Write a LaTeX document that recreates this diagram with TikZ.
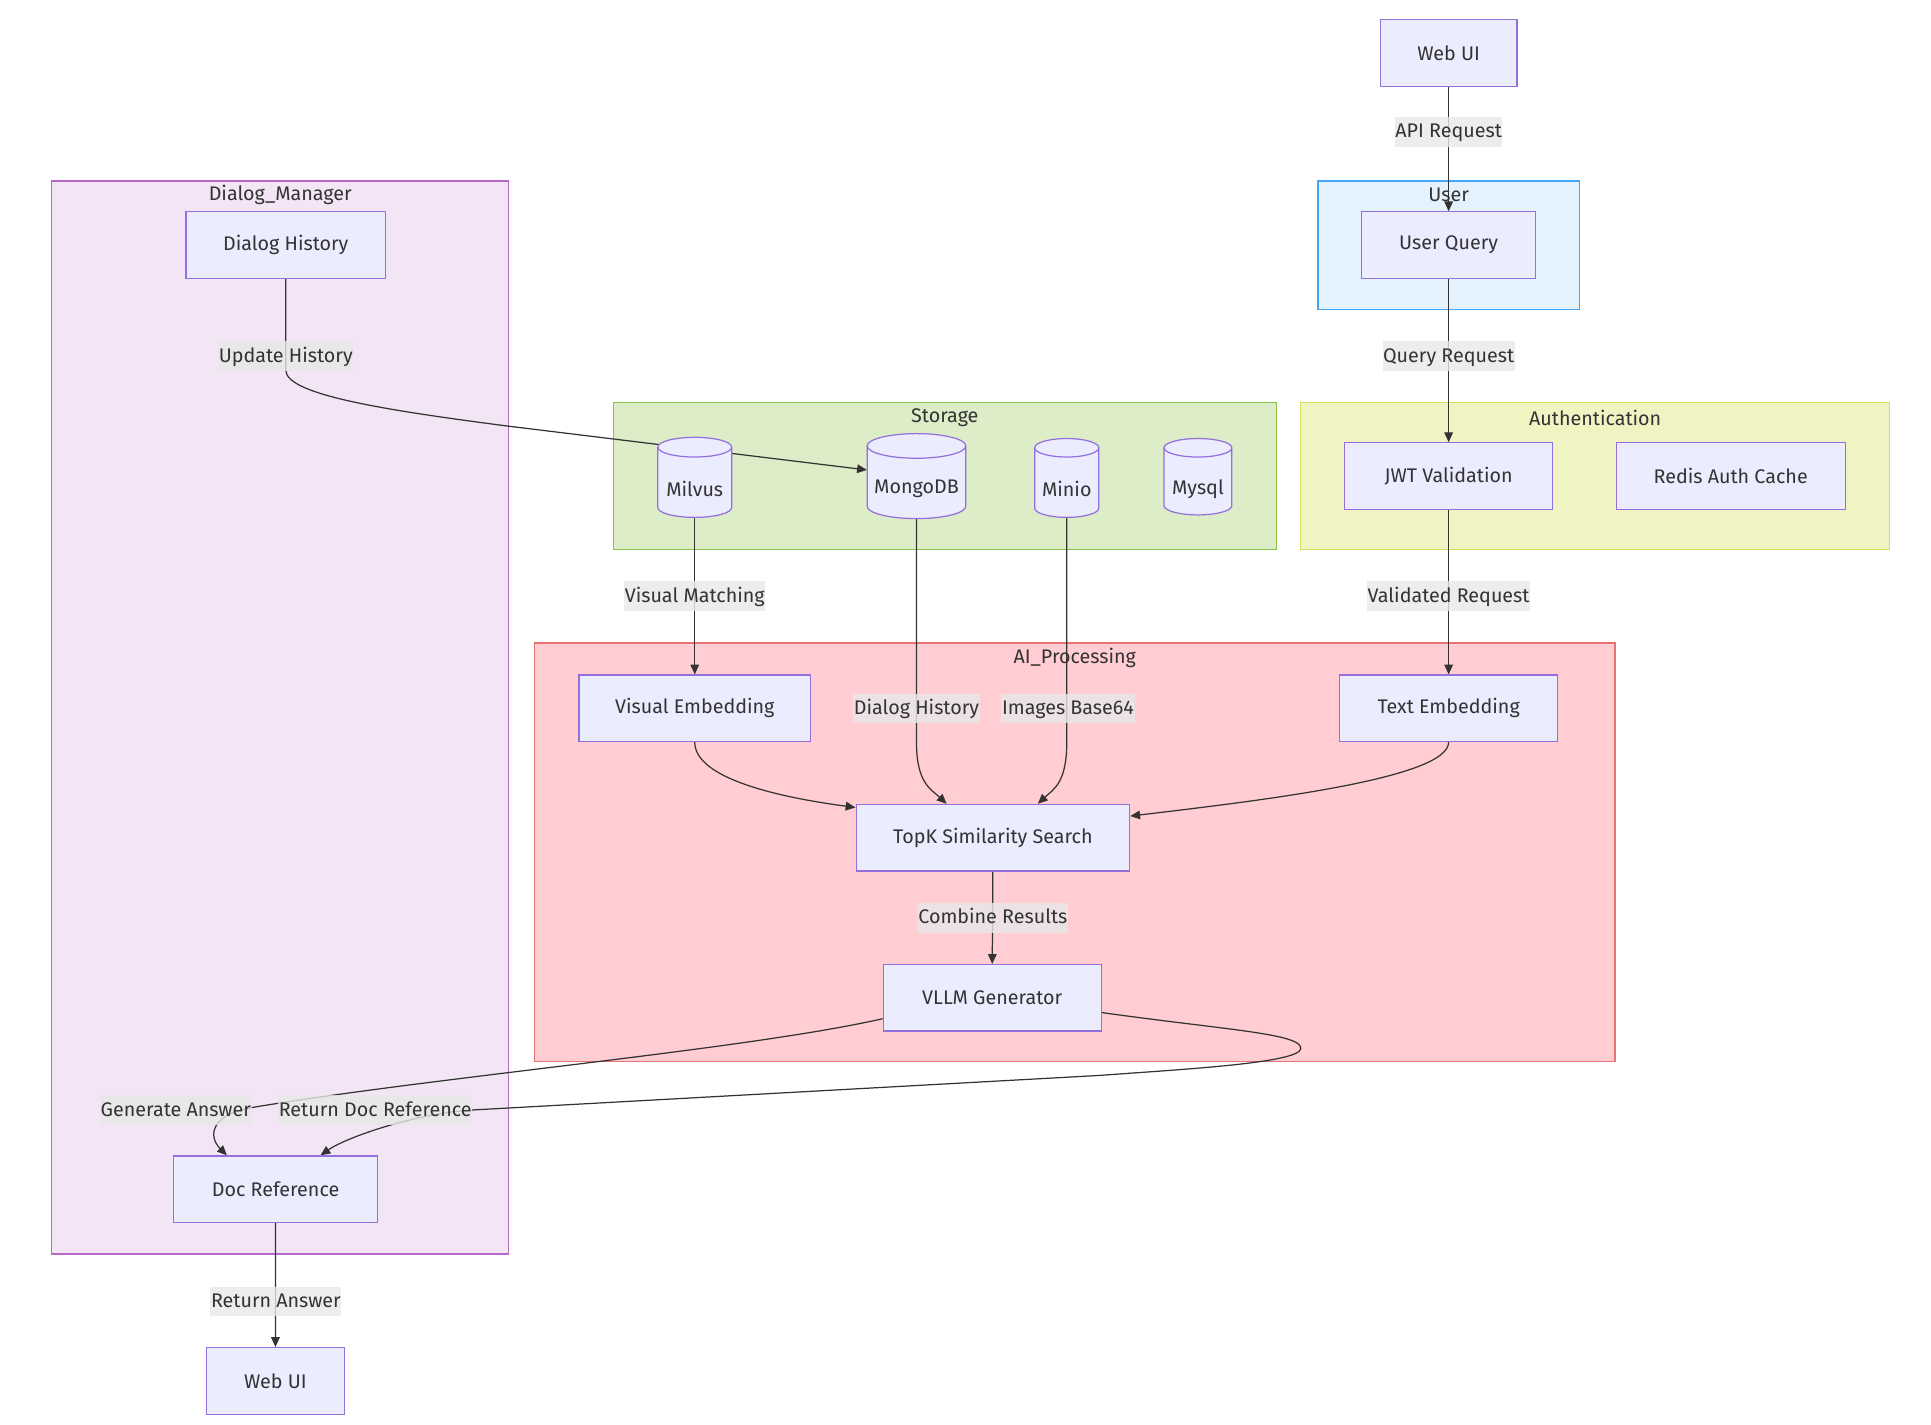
\documentclass[tikz,border=0pt]{standalone}
\usepackage{fontspec}
\setmainfont{Fira Sans}
\usetikzlibrary{arrows.meta}
\definecolor{nfill}{HTML}{ECECFF}
\definecolor{nstroke}{HTML}{9370DB}
\definecolor{ink}{HTML}{333333}
\definecolor{lblbg}{HTML}{E8E8E8}
\definecolor{dmfill}{HTML}{F3E5F5}
\definecolor{dmstroke}{HTML}{BA68C8}
\definecolor{usfill}{HTML}{E3F2FD}
\definecolor{usstroke}{HTML}{42A5F5}
\definecolor{stfill}{HTML}{DCEDC8}
\definecolor{ststroke}{HTML}{8BC34A}
\definecolor{aufill}{HTML}{F0F4C3}
\definecolor{austroke}{HTML}{D4E157}
\definecolor{aifill}{HTML}{FFCDD2}
\definecolor{aistroke}{HTML}{E57373}
\pgfdeclarelayer{clusters}
\pgfdeclarelayer{edges}
\pgfsetlayers{clusters,edges,main}
\newcommand\mfont{\fontsize{16}{19}\selectfont}
\tikzset{
  box/.style={draw=nstroke, fill=nfill, line width=1pt, minimum height=54pt, inner sep=0pt, text=ink, font=\mfont},
  dbnode/.style={inner sep=0pt, text=ink, font=\mfont},
  cylbody/.style={draw=nstroke, fill=nfill, line width=1pt},
  cylline/.style={draw=nstroke, line width=1pt},
  cluster/.style={line width=1pt},
  ctitle/.style={text=ink, font=\mfont, inner sep=0pt},
  edge/.style={draw=ink, line width=1pt, -{Triangle[length=8pt,width=7pt]}},
  elabel/.style={fill=lblbg, fill opacity=0.8, text opacity=1, text=ink, font=\mfont, inner xsep=0.5pt, inner ysep=0pt, text height=17pt, text depth=7pt},
}
\newcommand\dbshape[5]{%
  \path[cylbody] (#1-#2,#3+#5) -- (#1-#2,#4-#5) arc[start angle=180,end angle=360,x radius=#2pt,y radius=#5pt] -- (#1+#2,#3+#5) arc[start angle=0,end angle=180,x radius=#2pt,y radius=#5pt] -- cycle;
  \draw[cylline] (#1-#2,#3+#5) arc[start angle=180,end angle=360,x radius=#2pt,y radius=#5pt];
}
\begin{document}
\begin{tikzpicture}[x=1pt,y=-1pt]
\useasboundingbox (0,0) rectangle (1567.6,1156.8);

% clusters
\begin{pgfonlayer}{clusters}
\draw[cluster, draw=dmstroke, fill=dmfill] (42,147) rectangle (413,1018);
\node[ctitle] (tdm) at (227.5,158.5) {Dialog\_Manager};
\draw[cluster, draw=usstroke, fill=usfill] (1070,147) rectangle (1282,251);
\node[ctitle] (tus) at (1176,158.5) {User};
\draw[cluster, draw=ststroke, fill=stfill] (498,327) rectangle (1036,446);
\node[ctitle] (tst) at (767,339) {Storage};
\draw[cluster, draw=austroke, fill=aufill] (1056,327) rectangle (1534,446);
\node[ctitle] (tau) at (1295,339) {Authentication};
\draw[cluster, draw=aistroke, fill=aifill] (434,522) rectangle (1311,862);
\node[ctitle] (tai) at (872.5,534) {AI\_Processing};
\end{pgfonlayer}

% nodes
\node[box, minimum width=111pt] (webtop) at (1176,43) {Web UI};
\node[box, minimum width=141pt] (userq) at (1176,199) {User Query};
\node[box, minimum width=169pt] (jwt) at (1176,386.5) {JWT Validation};
\node[box, minimum width=186pt] (redis) at (1405,386.5) {Redis Auth Cache};
\node[box, minimum width=162pt] (dh) at (232,199) {Dialog History};
\node[box, minimum width=188pt] (visemb) at (564,575) {Visual Embedding};
\node[box, minimum width=177pt] (textemb) at (1176,575) {Text Embedding};
\node[box, minimum width=222pt] (topk) at (806,680) {TopK Similarity Search};
\node[box, minimum width=177pt] (vllm) at (805.5,810) {VLLM Generator};
\node[box, minimum width=166pt] (docref) at (223.7,965.4) {Doc Reference};
\node[box, minimum width=112pt] (webbot) at (223.6,1121) {Web UI};

\dbshape{564}{30}{355}{420}{8}
\node[dbnode, minimum width=60pt, minimum height=46pt] (milvus) at (564,397) {Milvus};
\dbshape{744}{40}{352}{421}{10}
\node[dbnode, minimum width=80pt, minimum height=48pt] (mongo) at (744,397) {MongoDB};
\dbshape{866}{26}{356}{420}{7.5}
\node[dbnode, minimum width=52pt, minimum height=46pt] (minio) at (866,397) {Minio};
\dbshape{972.5}{27.5}{356}{418}{7.5}
\node[dbnode, minimum width=55pt, minimum height=42pt] (mysql) at (972.5,397) {Mysql};

% edges
\begin{pgfonlayer}{edges}
\draw[edge] (webtop.south) -- (userq.north);
\draw[edge] (userq.south) -- (jwt.north);
\draw[edge] (jwt.south) -- (textemb.north);
\draw[edge] (milvus.south) -- (visemb.north);
\draw[edge] (topk.south) -- (vllm.north);
\draw[edge] (docref.south) -- (webbot.north);
\draw[edge] (mongo.south) -- (mongo.south |- visemb.south) .. controls +(0,33) and +(-13,-12) .. ([xshift=74pt]topk.north west);
\draw[edge] (minio.south) -- (minio.south |- visemb.south) .. controls +(0,33) and +(13,-12) .. ([xshift=148pt]topk.north west);
\draw[edge] (visemb.south) .. controls +(0,30) and +(-60,-8) .. ([yshift=-3pt]topk.north west);
\draw[edge] (textemb.south) .. controls +(0,30) and +(100,-12) .. ([yshift=-10pt]topk.north east);
\draw[edge] (dh.south) -- ([yshift=-74pt]dh.south) .. controls +(0,20) and +(-100,-13) .. (413,346) -- ([yshift=15.5pt]mongo.west);
\draw[edge] ([yshift=-17pt]vllm.west) .. controls +(-110,25) and +(150,-25) .. (205,899) .. controls +(-35,6) and +(-15,-15) .. ([xshift=44pt]docref.north west);
\draw[edge] ([yshift=-12pt]vllm.east) .. controls +(100,14) and +(0,-12) .. (1056,851) .. controls +(0,12) and +(67,-5) .. (893,873) -- (385,901) .. controls +(-50,3) and +(20,-14) .. ([xshift=120pt]docref.north west);

\node[elabel] (lapi) at (1176,107) {API Request};
\node[elabel] (lqry) at (1176,289) {Query Request};
\node[elabel] (lval) at (1176,484) {Validated Request};
\node[elabel] (lvis) at (564,484) {Visual Matching};
\node[elabel] (lupd) at (232,289) {Update History};
\node[elabel] (ldh) at (744,575) {Dialog History};
\node[elabel] (limg) at (867,575) {Images Base64};
\node[elabel] (lcomb) at (806,745) {Combine Results};
\node[elabel] (lgen) at (142.7,901) {Generate Answer};
\node[elabel] (lret) at (304.6,901) {Return Doc Reference};
\node[elabel] (lans) at (224,1056.7) {Return Answer};
\end{pgfonlayer}
\end{tikzpicture}
\end{document}
